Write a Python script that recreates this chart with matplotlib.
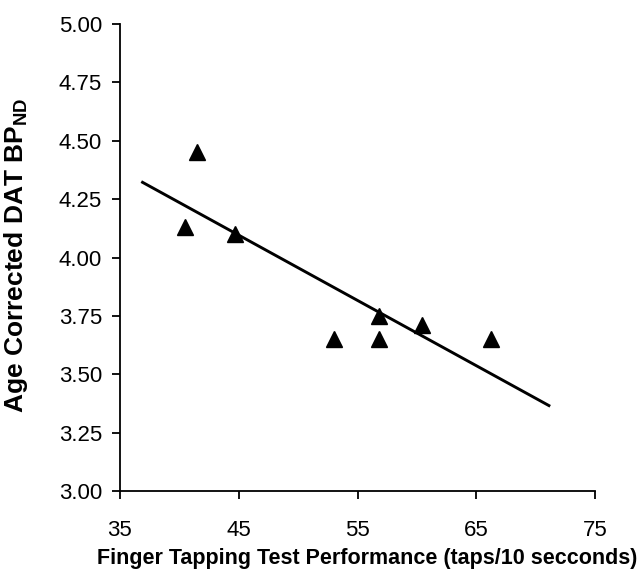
import numpy as np
import matplotlib
matplotlib.use("Agg")
import matplotlib.pyplot as plt

plt.rcParams['font.family'] = ['Liberation Sans', 'DejaVu Sans']

# Data
tapping = [41.5, 40.5, 44.7, 53.0, 56.8, 56.8, 60.4, 66.2]
dat_bp = [4.45, 4.13, 4.10, 3.65, 3.75, 3.65, 3.71, 3.65]
fit_x_range = [36.9, 71.1]
x_ticks = [35, 45, 55, 65, 75]
y_ticks = [3.00, 3.25, 3.50, 3.75, 4.00, 4.25, 4.50, 4.75, 5.00]

fig = plt.figure(figsize=(6.44, 5.72), dpi=100)
ax = fig.add_axes([0.1863, 0.1416, 0.738, 0.8164])

ax.plot(tapping, dat_bp, linestyle='none', marker='^', color='black',
        markersize=11.5, zorder=3)

slope, intercept = np.polyfit(tapping, dat_bp, 1)
xl = np.array(fit_x_range)
ax.plot(xl, slope * xl + intercept, color='black', linewidth=2.1, zorder=2)

ax.set_xlim(35, 75)
ax.set_ylim(3.0, 5.0)
ax.set_xticks(x_ticks)
ax.set_yticks(y_ticks)
ax.set_yticklabels([f"{v:.2f}" for v in y_ticks])

for s in ['top', 'right']:
    ax.spines[s].set_visible(False)
for s in ['left', 'bottom']:
    ax.spines[s].set_linewidth(1.3)
    ax.spines[s].set_color('black')

ax.tick_params(axis='x', direction='out', length=6, width=1.3, pad=15,
               labelsize=16)
ax.tick_params(axis='y', direction='out', length=6, width=1.3, pad=7,
               labelsize=16)

ax.set_xlabel('Finger Tapping Test Performance (taps/10 secconds)',
              fontsize=15.5, fontweight='bold')
ax.xaxis.set_label_coords(0.52, -0.122)
ax.set_ylabel(r'Age Corrected DAT BP$_{\mathregular{ND}}$',
              fontsize=19, fontweight='bold')
ax.yaxis.set_label_coords(-0.19, 0.505)

fig.savefig('out.png', dpi=100)
